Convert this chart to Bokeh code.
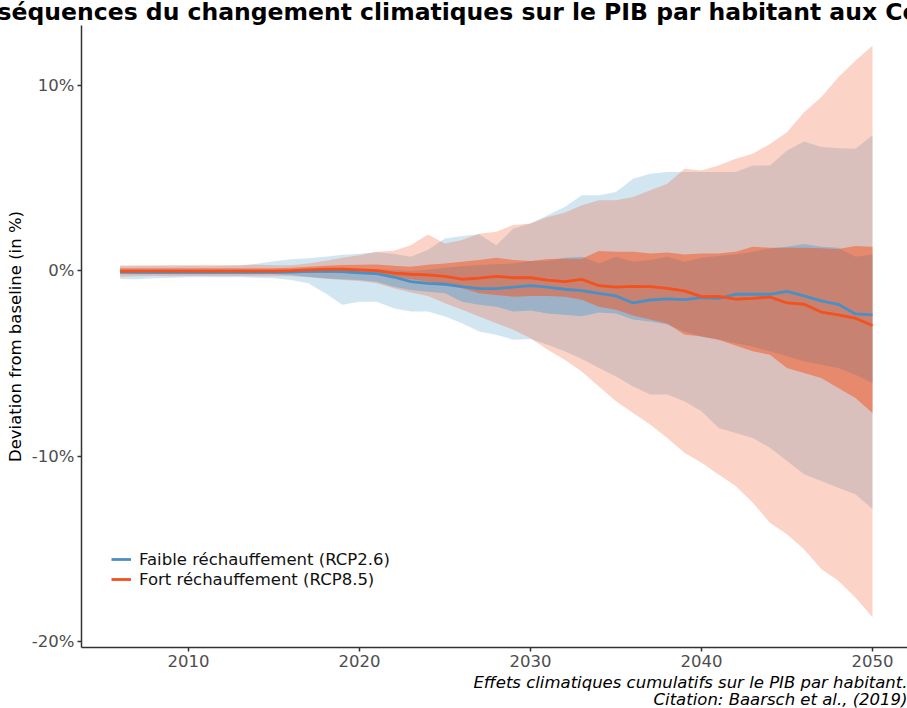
from bokeh.plotting import figure
from bokeh.models import Range1d, FixedTicker, PrintfTickFormatter, Legend, LegendItem, Title
from bokeh.embed import file_html
from bokeh.resources import INLINE

# ---------------- data (deviation from baseline, %) ----------------
years = list(range(2006, 2051))

rcp26_median = [-0.08, -0.09, -0.09, -0.09, -0.09,
                -0.09, -0.09, -0.09, -0.09, -0.09,
                -0.08, -0.03, -0.02, -0.05, -0.11,
                -0.16, -0.34, -0.59, -0.68, -0.73,
                -0.86, -0.97, -0.97, -0.88, -0.81,
                -0.89, -1.00, -1.07, -1.22, -1.36,
                -1.74, -1.58, -1.52, -1.56, -1.45,
                -1.49, -1.27, -1.27, -1.27, -1.11,
                -1.36, -1.63, -1.81, -2.33, -2.38]

rcp85_median = [-0.03, -0.02, -0.02, -0.02, -0.02,
                -0.02, -0.02, -0.02, -0.02, -0.02,
                0.00, 0.05, 0.08, 0.08, 0.05,
                0.00, -0.13, -0.19, -0.22, -0.30,
                -0.46, -0.40, -0.30, -0.38, -0.38,
                -0.51, -0.59, -0.47, -0.81, -0.88,
                -0.85, -0.86, -0.95, -1.09, -1.40,
                -1.38, -1.53, -1.49, -1.42, -1.74,
                -1.81, -2.23, -2.38, -2.56, -2.96]

rcp26_outer_high = [0.24, 0.24, 0.25, 0.24, 0.25,
                    0.24, 0.25, 0.27, 0.38, 0.51,
                    0.62, 0.67, 0.75, 0.86, 0.91,
                    0.99, 0.91, 0.75, 1.13, 1.74,
                    1.87, 1.96, 1.38, 2.27, 2.54,
                    2.99, 3.44, 4.07, 4.07, 4.25,
                    4.96, 5.23, 5.32, 5.32, 5.32,
                    5.32, 5.32, 5.68, 5.68, 6.49,
                    6.97, 6.67, 6.61, 6.58, 7.30]

rcp26_outer_low = [-0.45, -0.46, -0.40, -0.38, -0.35,
                   -0.35, -0.35, -0.35, -0.38, -0.41,
                   -0.50, -0.68, -1.22, -1.84, -1.67,
                   -1.67, -2.03, -2.20, -2.20, -2.47,
                   -2.83, -3.28, -3.46, -3.73, -3.69,
                   -3.99, -4.35, -4.76, -5.25, -5.70,
                   -6.24, -6.68, -6.68, -7.04, -7.58,
                   -8.48, -8.75, -9.02, -9.55, -10.27,
                   -10.98, -11.34, -11.70, -12.06, -12.85]

rcp85_outer_high = [0.28, 0.30, 0.30, 0.31, 0.31,
                    0.32, 0.31, 0.31, 0.32, 0.30,
                    0.30, 0.39, 0.54, 0.70, 0.84,
                    1.02, 1.08, 1.38, 1.95, 1.47,
                    1.65, 1.99, 2.10, 2.47, 2.54,
                    2.90, 3.12, 3.53, 3.80, 3.80,
                    3.98, 4.34, 4.69, 5.50, 5.41,
                    5.68, 6.04, 6.31, 6.84, 7.47,
                    8.55, 9.35, 10.43, 11.33, 12.13]

rcp85_outer_low = [-0.32, -0.30, -0.29, -0.30, -0.28,
                   -0.29, -0.30, -0.29, -0.30, -0.30,
                   -0.30, -0.35, -0.43, -0.50, -0.56,
                   -0.68, -0.95, -1.18, -1.36, -1.76,
                   -2.11, -2.47, -2.83, -3.19, -3.64,
                   -4.26, -4.80, -5.43, -6.24, -7.04,
                   -7.67, -8.30, -9.02, -9.82, -10.36,
                   -10.99, -11.61, -12.51, -13.59, -14.21,
                   -15.02, -16.09, -16.72, -17.62, -18.69]

rcp26_inner_high = [0.05, 0.05, 0.05, 0.05, 0.05,
                    0.05, 0.05, 0.05, 0.05, 0.05,
                    0.04, 0.05, 0.08, 0.08, 0.08,
                    0.09, 0.04, -0.02, 0.05, 0.16,
                    0.24, 0.31, 0.35, 0.39, 0.52,
                    0.52, 0.70, 0.75, 0.39, 0.75,
                    0.48, 0.58, 0.75, 0.48, 0.70,
                    0.79, 0.88, 1.02, 1.20, 1.29,
                    1.44, 1.29, 1.24, 0.75, 0.88]

rcp26_inner_low = [-0.19, -0.19, -0.19, -0.19, -0.19,
                   -0.19, -0.19, -0.19, -0.19, -0.19,
                   -0.23, -0.32, -0.41, -0.46, -0.50,
                   -0.59, -0.86, -1.04, -1.13, -1.22,
                   -1.67, -1.84, -1.94, -2.20, -2.15,
                   -2.31, -2.38, -2.45, -2.26, -2.31,
                   -2.63, -2.74, -2.90, -3.28, -3.55,
                   -3.71, -3.91, -4.09, -4.35, -4.62,
                   -4.89, -5.07, -5.25, -5.61, -6.06]

rcp85_inner_high = [0.13, 0.13, 0.13, 0.13, 0.13,
                    0.13, 0.13, 0.13, 0.13, 0.13,
                    0.16, 0.22, 0.27, 0.31, 0.32,
                    0.34, 0.27, 0.22, 0.32, 0.39,
                    0.48, 0.58, 0.70, 0.58, 0.52,
                    0.63, 0.65, 0.65, 1.06, 1.02,
                    1.02, 0.93, 0.98, 0.88, 0.93,
                    0.93, 1.02, 1.29, 1.24, 1.24,
                    1.24, 1.21, 1.17, 1.33, 1.29]

rcp85_inner_low = [-0.13, -0.13, -0.13, -0.13, -0.13,
                   -0.13, -0.13, -0.13, -0.13, -0.13,
                   -0.11, -0.11, -0.11, -0.12, -0.15,
                   -0.22, -0.32, -0.46, -0.59, -0.77,
                   -0.95, -1.22, -1.31, -1.40, -1.36,
                   -1.36, -1.40, -1.56, -1.94, -2.10,
                   -2.42, -2.63, -2.85, -3.44, -3.55,
                   -3.73, -4.03, -4.35, -4.53, -5.25,
                   -5.52, -5.79, -6.33, -6.87, -7.67]

x_ticks = [2010, 2020, 2030, 2040, 2050]
y_ticks = [-20, -10, 0, 10]

labels = ["Faible réchauffement (RCP2.6)", "Fort réchauffement (RCP8.5)"]
title_text = "Conséquences du changement climatiques sur le PIB par habitant aux Comores"
caption_lines = ["Effets climatiques cumulatifs sur le PIB par habitant.",
                 "Citation: Baarsch et al., (2019)"]

# ---------------- layout ----------------
W, H = 907, 708
LEFT, TOP, BOTTOM = 81, 23, 61
X0, X1 = 2003.743, 2052.047
Y0, Y1 = -20.323, 13.226
FONT = "DejaVu Sans"
FS = "16.5px"
CAPTION_STANDOFFS = [3, -11]

BLUE_FILL = "#5fa4d0"
RED_FILL = "#f4511e"
BLUE_LINE = "#4a90c4"
RED_LINE = "#f4511e"

p = figure(width=W, height=H, x_range=Range1d(X0, X1), y_range=Range1d(Y0, Y1),
           output_backend="svg", toolbar_location=None,
           min_border_left=LEFT, min_border_right=0, min_border_top=TOP, min_border_bottom=BOTTOM,
           background_fill_color="white", border_fill_color="white", outline_line_color=None)

p.xgrid.visible = False
p.ygrid.visible = False

# bands
p.varea(x=years, y1=rcp26_outer_low, y2=rcp26_outer_high, fill_color=BLUE_FILL, fill_alpha=0.28)
p.varea(x=years, y1=rcp85_outer_low, y2=rcp85_outer_high, fill_color=RED_FILL, fill_alpha=0.25)
p.varea(x=years, y1=rcp26_inner_low, y2=rcp26_inner_high, fill_color=BLUE_FILL, fill_alpha=0.5)
p.varea(x=years, y1=rcp85_inner_low, y2=rcp85_inner_high, fill_color=RED_FILL, fill_alpha=0.5)

l26 = p.line(years, rcp26_median, line_color=BLUE_LINE, line_width=2.8)
l85 = p.line(years, rcp85_median, line_color=RED_LINE, line_width=2.8)

# legend (grey key background like ggplot)
bg = p.rect(x=[], y=[], width=1, height=1, fill_color="#f2f2f2", line_color=None)
legend = Legend(items=[LegendItem(label=labels[0], renderers=[bg, l26]),
                       LegendItem(label=labels[1], renderers=[bg, l85])],
                location=(30, 58), padding=0, margin=0, spacing=0,
                glyph_width=20, glyph_height=20, label_height=20, label_standoff=8,
                label_text_font=FONT, label_text_font_size=FS, label_text_color="#111111",
                border_line_color=None, background_fill_alpha=0)
p.add_layout(legend)

# axes
for ax in (p.xaxis[0], p.yaxis[0]):
    ax.axis_line_color = "#333333"
    ax.axis_line_width = 1.5
    ax.major_tick_line_color = "#333333"
    ax.major_tick_line_width = 1.5
    ax.major_tick_out = 4
    ax.major_tick_in = 0
    ax.minor_tick_line_color = None
    ax.major_label_text_font = FONT
    ax.major_label_text_font_size = FS
    ax.major_label_text_color = "#4d4d4d"
    ax.major_label_standoff = 3

p.xaxis.ticker = FixedTicker(ticks=x_ticks)
p.yaxis.ticker = FixedTicker(ticks=y_ticks)
p.yaxis.formatter = PrintfTickFormatter(format="%d%%")
p.yaxis.axis_label = "Deviation from baseline (in %)"
p.yaxis.axis_label_text_font = FONT
p.yaxis.axis_label_text_font_size = FS
p.yaxis.axis_label_text_font_style = "normal"
p.yaxis.axis_label_text_color = "black"
p.yaxis.axis_label_standoff = 4

# title (wider than the canvas and cropped at the top, like the reference)
p.add_layout(Title(text=title_text, align="left", vertical_align="top", offset=-134, standoff=-5.5,
                   text_font=FONT, text_font_size="23.5px", text_font_style="bold",
                   text_color="black"), "above")

# caption
for line, so in zip(caption_lines, CAPTION_STANDOFFS):
    p.add_layout(Title(text=line, align="right", offset=0, standoff=so,
                       text_font=FONT, text_font_size=FS, text_font_style="italic",
                       text_color="black"), "below")

open("out.html", "w", encoding="utf-8").write(file_html(p, INLINE))
